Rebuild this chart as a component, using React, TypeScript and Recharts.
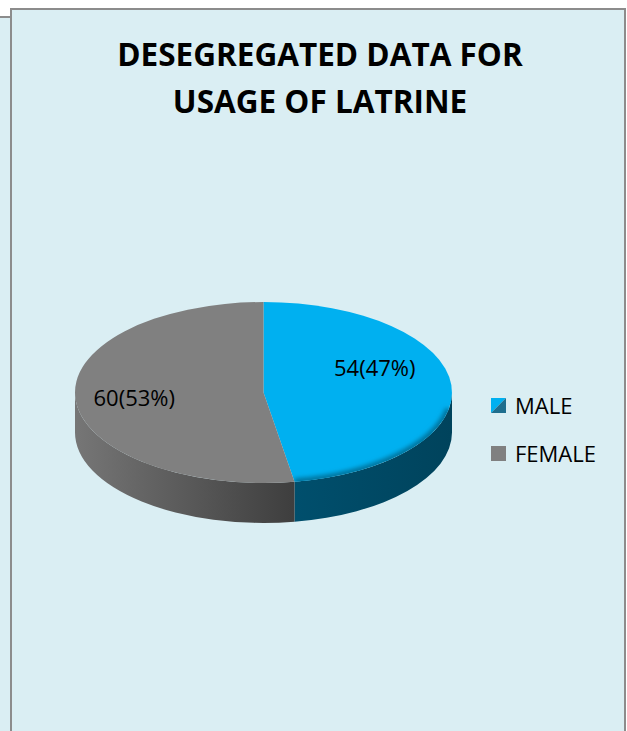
import React from 'react';
import { PieChart, Pie, Cell, Legend } from 'recharts';

// ---- data ----
const categories = ['MALE', 'FEMALE'];
const values = [54, 60];
const titleLines = ['DESEGREGATED DATA FOR', 'USAGE OF LATRINE'];

// ---- styles ----
const BG = '#DAEEF3';
const BORDER = '#8C8C8C';
const TOP_COLORS = ['#00B0F0', '#808080'];
const SIDE_STOPS = [
  ['#004F6D', '#00435C'],
  ['#767676', '#3E3E3E'],
];
const EDGE_COLORS = ['#00749E', null];
const FONT = '"Open Sans", "Noto Sans", sans-serif';
const TILT = 0.48;
const DEPTH = 40;
const RAD = Math.PI / 180;
const LABEL_R = 0.64;
const LABEL_DX = -9;
const LABEL_DY = [-12, 9];

const data = categories.map((name, i) => ({ name, value: values[i] }));

function idxOf(p: any): number {
  const n = p?.name ?? p?.payload?.name;
  let i = categories.indexOf(n);
  if (i < 0) i = TOP_COLORS.indexOf(p?.fill);
  return i < 0 ? 0 : i;
}

function Slice3D(props: any) {
  const { cx, cy, outerRadius, startAngle, endAngle } = props;
  const i = idxOf(props);
  const rx = outerRadius;
  const ry = outerRadius * TILT;
  const pt = (a: number, dy = 0) => [cx + rx * Math.cos(a * RAD), cy - ry * Math.sin(a * RAD) + dy];
  const hi = Math.max(startAngle, endAngle);
  const lo = Math.min(startAngle, endAngle);
  const segs: number[][] = [];
  for (let k = -2; k <= 2; k++) {
    const a = Math.max(lo, -180 + 360 * k);
    const b = Math.min(hi, 360 * k);
    if (b - a > 0.01) segs.push([b, a]);
  }
  const gid = `side-grad-${i}`;
  const [p1, p2] = [pt(hi), pt(lo)];
  const large = hi - lo > 180 ? 1 : 0;
  const top = `M${cx},${cy} L${p1[0]},${p1[1]} A${rx},${ry} 0 ${large} 1 ${p2[0]},${p2[1]} Z`;
  const edge = EDGE_COLORS[i];
  return (
    <g>
      {segs.map(([b, a], k) => {
        const s = pt(b);
        const e = pt(a);
        const eb = pt(a, DEPTH);
        const sb = pt(b, DEPTH);
        const xs = [s[0], e[0]];
        const d = `M${s[0]},${s[1]} A${rx},${ry} 0 0 1 ${e[0]},${e[1]} L${eb[0]},${eb[1]} A${rx},${ry} 0 0 0 ${sb[0]},${sb[1]} Z`;
        const id = `${gid}-${k}`;
        return (
          <g key={k}>
            <defs>
              <linearGradient id={id} gradientUnits="userSpaceOnUse" x1={Math.min(...xs)} x2={Math.max(...xs)} y1={0} y2={0}>
                <stop offset="0" stopColor={SIDE_STOPS[i][0]} />
                <stop offset="1" stopColor={SIDE_STOPS[i][1]} />
              </linearGradient>
            </defs>
            <path d={d} fill={`url(#${id})`} stroke="none" />
          </g>
        );
      })}
      <defs>
        <clipPath id={`top-clip-${i}`}>
          <path d={top} />
        </clipPath>
        <filter id={`edge-blur-${i}`} x="-20%" y="-20%" width="140%" height="140%">
          <feGaussianBlur stdDeviation="2.2" />
        </filter>
      </defs>
      <path d={top} fill={TOP_COLORS[i]} stroke="none" />
      {edge &&
        segs.map(([b, a], k) => {
          const bb = Math.min(b, a + 70);
          const s = pt(bb);
          const e = pt(a);
          return (
            <g key={`e${k}`} clipPath={`url(#top-clip-${i})`}>
              <path
                d={`M${s[0]},${s[1]} A${rx},${ry} 0 0 1 ${e[0]},${e[1]}`}
                fill="none"
                stroke={edge}
                strokeWidth={7}
                filter={`url(#edge-blur-${i})`}
              />
            </g>
          );
        })}
    </g>
  );
}

const renderLabel = (p: any) => {
  const { cx, cy, midAngle, outerRadius, value, percent } = p;
  const i = idxOf(p);
  const r = outerRadius * LABEL_R;
  const x = cx + r * Math.cos(midAngle * RAD) + LABEL_DX;
  const y = cy - r * TILT * Math.sin(midAngle * RAD) + LABEL_DY[i];
  return (
    <text x={x} y={y} textAnchor="middle" fontFamily={FONT} fontSize={22} fill="#000">
      {`${value}(${Math.round(percent * 100)}%)`}
    </text>
  );
};

const renderLegend = (props: any) => {
  const payload = [...(props.payload || [])].sort(
    (a: any, b: any) => categories.indexOf(a.value) - categories.indexOf(b.value)
  );
  return (
    <div style={{ fontFamily: FONT, fontSize: 22, color: '#000' }}>
      {payload.map((e: any, k: number) => {
        const i = categories.indexOf(e.value);
        return (
          <div key={k} style={{ position: 'relative', height: 48, lineHeight: '48px', whiteSpace: 'nowrap' }}>
            <svg width={15} height={15} style={{ position: 'absolute', left: 0, top: 17 }}>
              {i === 0 ? (
                <>
                  <polygon points="0,0 15,0 0,15" fill={TOP_COLORS[0]} />
                  <polygon points="15,0 15,15 0,15" fill="#1E6E8E" />
                </>
              ) : (
                <rect x={0} y={0} width={15} height={15} fill={TOP_COLORS[i < 0 ? 1 : i]} />
              )}
            </svg>
            <span style={{ position: 'absolute', left: 24, top: 0 }}>{e.value}</span>
          </div>
        );
      })}
    </div>
  );
};

export default function App() {
  return (
    <div style={{ position: 'absolute', left: 0, top: 0, width: 627, height: 731, background: '#fff', overflow: 'hidden' }}>
      <div style={{ position: 'absolute', left: -20, top: 16, width: 40, height: 800, background: BG, border: `2px solid ${BORDER}`, boxSizing: 'border-box' }} />
      <div style={{ position: 'absolute', left: 10, top: 8, width: 616, height: 800, background: BG, border: `2px solid ${BORDER}`, boxSizing: 'border-box' }} />
      <div style={{ position: 'absolute', left: 0, top: 30, width: 640, textAlign: 'center', fontFamily: FONT, fontWeight: 700, fontSize: 31.5, lineHeight: '47px', color: '#000' }}>
        {titleLines.map((t, k) => (
          <div key={k}>{t}</div>
        ))}
      </div>
      <div style={{ position: 'absolute', left: 0, top: 0 }}>
        <PieChart width={627} height={731} margin={{ top: 0, right: 0, bottom: 0, left: 0 }}>
          <Pie
            data={data}
            dataKey="value"
            nameKey="name"
            cx={263.5}
            cy={392.5}
            outerRadius={188.5}
            startAngle={90}
            endAngle={-270}
            stroke="none"
            isAnimationActive={false}
            shape={Slice3D}
            inactiveShape={Slice3D}
            activeShape={Slice3D}
            label={renderLabel}
            labelLine={false}
          >
            {data.map((d, i) => (
              <Cell key={d.name} fill={TOP_COLORS[i]} />
            ))}
          </Pie>
          <Legend
            content={renderLegend}
            wrapperStyle={{ position: 'absolute', left: 491, top: 380.5, width: 130, height: 96 }}
          />
        </PieChart>
      </div>
    </div>
  );
}
